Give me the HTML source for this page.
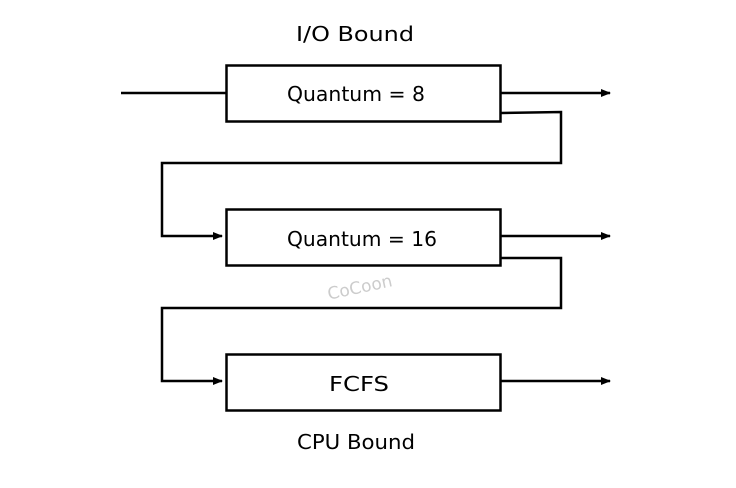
<!DOCTYPE html>
<html><head><meta charset="utf-8"><style>html,body{margin:0;padding:0;background:#fff;}svg{display:block}</style></head>
<body>
<svg width="736" height="488" viewBox="0 0 736 488" xmlns="http://www.w3.org/2000/svg" font-family="'DejaVu Sans','Liberation Sans',sans-serif">
<defs><marker id="a" markerWidth="10" markerHeight="8" refX="9" refY="4" orient="auto" markerUnits="userSpaceOnUse"><path d="M0,0 L10,4 L0,8 Z" fill="#000"/></marker></defs>
<g fill="none" stroke="#000" stroke-width="2.5">
<rect x="226.5" y="65.5" width="274" height="56"/>
<rect x="226.5" y="209.5" width="274" height="56"/>
<rect x="226.5" y="354.5" width="274" height="56"/>
<line x1="121" y1="93" x2="226" y2="93"/>
<line x1="501" y1="93" x2="610" y2="93" marker-end="url(#a)"/>
<line x1="501" y1="236" x2="610" y2="236" marker-end="url(#a)"/>
<line x1="501" y1="381" x2="610" y2="381" marker-end="url(#a)"/>
<polyline points="501,113 561,112 561,163 162,163 162,236 222,236" marker-end="url(#a)"/>
<polyline points="501,258 561,258 561,308 162,308 162,381 222,381" marker-end="url(#a)"/>
</g>
<g font-size="20" fill="#000" text-anchor="middle">
<text x="355" y="41" textLength="118" lengthAdjust="spacingAndGlyphs">I/O Bound</text>
<text x="356" y="101" textLength="138" lengthAdjust="spacingAndGlyphs">Quantum = 8</text>
<text x="362" y="246" textLength="150" lengthAdjust="spacingAndGlyphs">Quantum = 16</text>
<text x="359" y="391" textLength="60" lengthAdjust="spacingAndGlyphs">FCFS</text>
<text x="356" y="449" textLength="118" lengthAdjust="spacingAndGlyphs">CPU Bound</text>
</g>
<text x="360" y="293" font-size="17" fill="#ccc" text-anchor="middle" transform="rotate(-12 360 288)">CoCoon</text>
</svg>
</body></html>
